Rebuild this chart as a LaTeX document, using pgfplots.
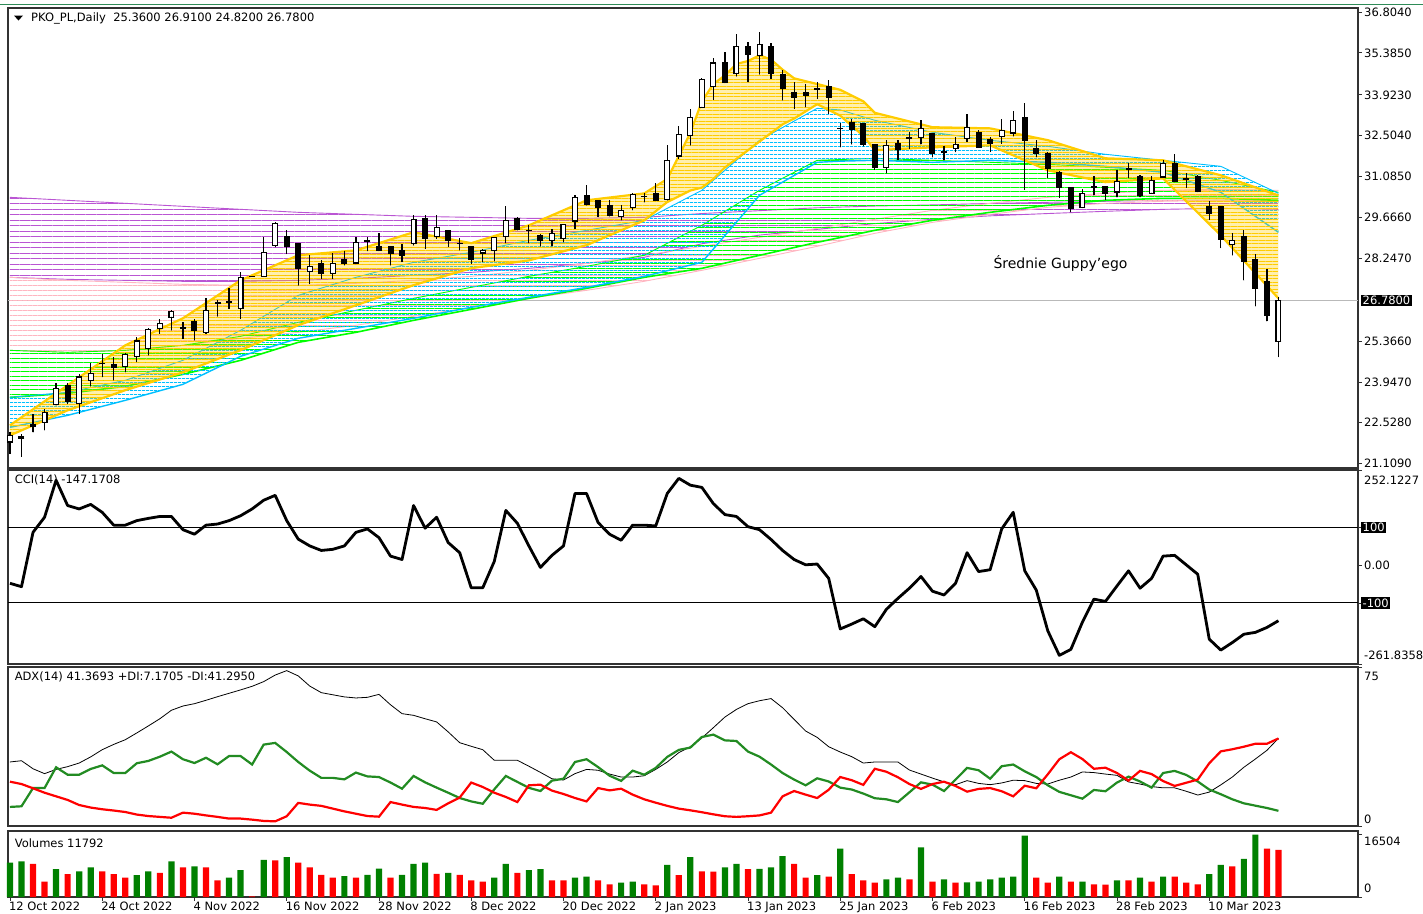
\documentclass[border=0pt]{standalone}
\usepackage{fontspec}
\setmainfont{DejaVu Sans}
\usepackage{pgfplots}
\pgfplotsset{compat=1.18}
\usepackage{pgfplotstable}
\usetikzlibrary{patterns.meta}
\definecolor{gvio}{RGB}{186,85,211}
\definecolor{gpink}{RGB}{255,182,193}
\definecolor{ggreen}{RGB}{0,255,0}
\definecolor{gblue}{RGB}{0,191,255}
\definecolor{ggold}{RGB}{255,204,0}
\definecolor{volg}{RGB}{0,128,0}
\definecolor{volr}{RGB}{255,0,0}
\definecolor{adxg}{RGB}{34,139,34}
\definecolor{framec}{RGB}{50,50,50}
\definecolor{topline}{RGB}{46,139,87}

\pgfplotstableread{
i o h l c
0 21.86 22.20 21.45 22.09
1 22.05 22.15 21.35 22.00
2 22.45 22.84 22.20 22.40
3 22.55 23.00 22.27 22.90
4 23.15 23.90 23.13 23.71
5 23.83 23.90 23.19 23.27
6 23.21 24.23 22.84 24.12
7 24.00 24.60 23.79 24.25
8 24.60 24.93 24.12 24.58
9 24.55 24.80 24.00 24.45
10 24.49 24.95 24.29 24.90
11 24.84 25.51 24.64 25.37
12 25.10 25.82 24.87 25.76
13 25.82 26.14 25.62 25.99
14 26.20 26.46 25.74 26.38
15 25.84 26.03 25.45 25.82
16 26.03 26.14 25.39 25.74
17 25.65 26.87 25.62 26.44
18 26.70 26.80 26.23 26.69
19 26.74 27.22 26.49 26.72
20 26.49 27.77 26.15 27.59
21 27.62 27.62 27.62 27.62
22 27.62 28.98 27.62 28.46
23 28.69 29.51 28.63 29.45
24 29.01 29.22 28.40 28.66
25 28.75 28.75 27.30 27.88
26 27.80 28.35 27.36 27.96
27 28.05 28.20 27.54 27.73
28 27.73 28.43 27.54 28.05
29 28.20 28.50 28.00 28.05
30 28.08 28.98 28.05 28.79
31 28.85 29.00 28.50 28.83
32 28.66 29.13 28.50 28.52
33 28.64 28.64 28.00 28.41
34 28.52 28.75 28.12 28.35
35 28.77 29.76 28.69 29.59
36 29.62 29.76 28.58 28.93
37 29.01 29.76 28.93 29.30
38 29.22 29.24 28.64 28.87
39 28.76 28.95 28.52 28.75
40 28.64 28.64 28.06 28.20
41 28.43 28.58 28.12 28.52
42 28.50 29.00 28.15 28.96
43 29.01 30.05 28.77 29.56
44 29.62 29.68 29.22 29.24
45 29.22 29.39 28.77 29.20
46 29.05 29.10 28.66 28.87
47 28.87 29.27 28.66 29.12
48 28.93 29.45 28.81 29.41
49 29.54 30.43 29.27 30.35
50 30.43 30.78 30.08 30.12
51 30.26 30.26 29.68 30.00
52 30.08 30.26 29.70 29.74
53 29.70 30.08 29.56 29.91
54 30.00 30.52 29.92 30.45
55 30.40 30.52 30.19 30.38
56 30.49 30.86 30.24 30.26
57 30.29 32.17 30.26 31.65
58 31.80 32.83 31.71 32.55
59 32.52 33.44 32.17 33.13
60 33.50 34.52 33.48 34.46
61 34.22 35.22 33.76 35.03
62 35.03 35.41 34.34 34.37
63 34.68 36.05 34.57 35.59
64 35.59 35.76 34.37 35.33
65 35.30 36.11 34.64 35.68
66 35.59 35.73 34.49 34.68
67 34.64 34.78 33.73 34.14
68 33.99 34.37 33.44 33.83
69 34.02 34.31 33.50 33.90
70 34.14 34.37 33.79 34.13
71 34.20 34.43 33.27 33.83
72 32.77 32.95 32.11 32.75
73 32.95 33.10 32.20 32.72
74 32.92 32.95 32.13 32.20
75 32.20 32.20 31.32 31.39
76 31.39 32.34 31.20 32.17
77 32.23 32.34 31.67 32.02
78 32.44 32.63 32.05 32.43
79 32.43 33.06 32.20 32.75
80 32.57 32.60 31.76 31.88
81 31.95 32.14 31.65 31.93
82 32.05 32.46 31.94 32.20
83 32.40 33.27 32.29 32.80
84 32.60 32.69 32.09 32.11
85 32.37 32.46 31.94 32.25
86 32.48 33.09 32.23 32.69
87 32.60 33.36 32.48 33.04
88 33.13 33.64 30.63 32.34
89 32.05 32.34 31.76 31.88
90 31.90 31.93 31.05 31.36
91 31.24 31.28 30.35 30.70
92 30.70 30.72 29.85 29.97
93 30.00 30.66 30.00 30.51
94 30.73 31.09 30.43 30.72
95 30.75 30.75 30.28 30.49
96 30.55 31.30 30.37 30.90
97 31.36 31.55 31.05 31.35
98 31.09 31.13 30.37 30.43
99 30.51 31.09 30.49 30.95
100 31.07 31.67 31.05 31.53
101 31.53 31.88 30.90 30.90
102 31.03 31.20 30.70 31.00
103 31.09 31.13 30.55 30.58
104 30.05 30.24 29.59 29.82
105 30.03 30.03 28.61 28.89
106 28.73 29.12 28.35 28.87
107 29.01 29.22 27.48 28.12
108 28.20 28.41 26.58 27.19
109 27.42 27.88 26.06 26.26
110 25.36 26.91 24.82 26.78
}\candles

\pgfplotstableread{
i o c
0 21.86 22.09
3 22.55 22.90
4 23.15 23.71
6 23.21 24.12
7 24.00 24.25
10 24.49 24.90
11 24.84 25.37
12 25.10 25.76
13 25.82 25.99
14 26.20 26.38
17 25.65 26.44
20 26.49 27.59
22 27.62 28.46
23 28.69 29.45
26 27.80 27.96
28 27.73 28.05
30 28.08 28.79
35 28.77 29.59
37 29.01 29.30
41 28.43 28.52
42 28.50 28.96
43 29.01 29.56
47 28.87 29.12
48 28.93 29.41
49 29.54 30.35
53 29.70 29.91
54 30.00 30.45
57 30.29 31.65
58 31.80 32.55
59 32.52 33.13
60 33.50 34.46
61 34.22 35.03
63 34.68 35.59
65 35.30 35.68
76 31.39 32.17
79 32.43 32.75
82 32.05 32.20
83 32.40 32.80
86 32.48 32.69
87 32.60 33.04
93 30.00 30.51
96 30.55 30.90
99 30.51 30.95
100 31.07 31.53
106 28.73 28.87
110 25.36 26.78
}\whites

% Guppy bands: upper edge left to right, then lower edge right to left
\pgfplotstableread{
x y
0 30.363
5 30.259
10 30.155
15 30.051
20 29.946
25 29.842
30 29.772
35 29.703
40 29.668
45 29.633
50 29.633
55 29.668
60 29.800
65 29.900
70 30.000
75 30.060
80 30.100
85 30.150
90 30.190
95 30.225
100 30.259
105 30.259
110 30.225
110 29.946
105 29.981
100 29.946
95 29.877
90 29.800
85 29.720
80 29.600
75 29.450
70 29.250
65 29.050
60 28.750
55 28.278
50 28.069
45 27.895
40 27.756
35 27.652
30 27.548
25 27.478
20 27.444
15 27.444
10 27.478
5 27.513
0 27.582
}\vio

\pgfplotstableread{
x y
0 27.582
5 27.478
10 27.409
15 27.339
20 27.305
25 27.305
30 27.374
35 27.478
40 27.617
45 27.826
50 28.069
55 28.348
60 28.660
65 28.973
70 29.286
75 29.599
80 29.912
85 30.155
90 30.363
95 30.502
100 30.607
105 30.641
110 30.607
110 30.225
105 30.259
100 30.225
95 30.155
90 30.016
85 29.772
80 29.494
75 29.112
70 28.660
65 28.243
60 27.826
55 27.444
50 27.131
45 26.853
40 26.540
35 26.227
30 25.915
25 25.671
20 25.463
15 25.219
10 25.045
5 24.976
0 25.045
}\pink

\pgfplotstableread{
x y
0 25.045
5 24.976
10 25.045
15 25.219
20 25.532
25 26.019
30 26.436
35 26.853
40 27.235
45 27.617
50 27.965
55 28.348
60 29.390
65 30.607
70 31.649
75 31.719
80 31.649
85 31.580
90 31.510
95 31.406
100 31.302
105 30.954
110 30.537
110 30.259
105 30.329
100 30.329
95 30.259
90 30.085
85 29.842
80 29.564
75 29.216
70 28.799
65 28.348
60 27.895
55 27.582
50 27.200
45 26.853
40 26.470
35 26.088
30 25.671
25 25.324
20 24.698
15 24.211
10 23.794
5 23.551
0 23.412
}\green

\pgfplotstableread{
x y
0 23.412
5 23.586
10 24.003
15 24.698
20 25.741
25 26.957
30 27.582
35 28.104
40 28.452
45 28.869
50 29.216
55 29.564
60 30.607
65 32.345
70 33.457
72 33.400
75 33.040
80 32.623
85 32.345
90 32.136
95 31.858
100 31.649
105 31.441
110 30.502
110 29.147
105 30.537
100 31.232
95 31.441
90 31.580
85 31.649
80 31.580
75 31.649
72 31.620
70 31.580
65 30.433
60 28.104
55 27.617
50 27.235
45 26.888
40 26.540
35 26.158
30 25.810
25 25.463
20 24.837
15 23.864
10 23.307
5 22.786
0 22.369
}\blue

\pgfplotstableread{
x y
0 22.44
5 23.83
10 25.22
15 26.16
20 27.48
25 28.35
30 28.52
35 29.15
40 28.77
45 29.39
50 30.26
55 30.50
57 31.00
58 31.80
59 32.60
60 33.70
61 34.30
62 34.60
63 35.00
64 35.10
65 35.30
66 35.15
67 34.80
68 34.50
70 34.30
72 34.10
74 33.70
75 33.30
80 32.80
85 32.76
90 32.35
95 31.72
100 31.65
105 31.13
110 30.43
110 26.85
105 29.04
100 31.02
95 30.89
90 31.30
85 32.17
80 32.10
75 32.00
74 32.50
72 33.20
70 33.60
68 33.10
67 32.90
66 32.60
65 32.30
64 32.00
63 31.70
62 31.40
61 31.00
60 30.70
59 30.60
58 30.40
57 30.20
55 29.56
50 28.70
45 28.17
40 27.90
35 27.31
30 26.61
25 25.92
20 25.05
15 24.28
10 23.66
5 22.96
0 22.09
}\gold

\pgfplotstableread{
i v
0 -48
1 -57
2 87
3 127
4 225
5 158
6 149
7 161
8 140
9 106
10 106
11 118
12 124
13 129
14 129
15 94
16 82
17 106
18 109
19 118
20 131
21 149
22 172
23 185
24 118
25 69
26 51
27 39
28 42
29 51
30 87
31 96
32 73
33 24
34 15
35 158
36 98
37 127
38 60
39 33
40 -60
41 -60
42 10
43 145
44 111
45 51
46 -6
47 26
48 51
49 190
50 190
51 113
52 82
53 66
54 106
55 106
56 104
57 190
58 230
59 212
60 206
61 163
62 134
63 129
64 102
65 94
66 68
67 39
68 15
69 1
70 3
71 -35
72 -169
73 -156
74 -142
75 -163
76 -117
77 -88
78 -61
79 -30
80 -69
81 -79
82 -48
83 33
84 -17
85 -12
86 96
87 140
88 -15
89 -66
90 -174
91 -239
92 -223
93 -151
94 -90
95 -96
96 -55
97 -15
98 -61
99 -35
100 24
101 26
102 1
103 -24
104 -196
105 -225
106 -205
107 -183
108 -178
109 -165
110 -147.17
}\cci

\pgfplotstableread{
i adx pdi mdi
0 30.2 9.0 20.9
1 30.8 9.3 19.8
2 27.0 17.9 17.8
3 24.7 17.9 15.7
4 26.7 27.7 14.0
5 28.0 24.2 12.3
6 29.7 24.2 9.9
7 32.6 26.9 8.7
8 36.0 28.6 7.9
9 38.5 25.0 7.3
10 40.7 25.0 6.6
11 43.9 29.6 5.4
12 47.2 30.7 4.7
13 50.6 32.7 4.3
14 54.6 35.1 3.9
15 56.6 31.5 6.3
16 57.7 29.7 5.8
17 59.3 32.2 5.0
18 61.0 29.1 4.3
19 62.6 33.0 3.5
20 64.2 33.0 3.5
21 65.9 29.0 3.0
22 68.1 38.4 2.4
23 71.2 39.2 2.2
24 73.3 34.9 4.6
25 70.8 30.2 10.9
26 66.0 26.1 10.1
27 62.9 22.7 9.5
28 61.9 22.7 8.2
29 60.9 22.0 6.9
30 60.4 25.2 5.8
31 60.7 23.4 4.7
32 62.1 23.1 4.4
33 57.2 20.5 11.3
34 53.0 17.6 10.1
35 52.2 23.6 9.0
36 50.6 20.6 8.5
37 49.1 18.1 7.6
38 44.4 15.7 10.7
39 39.3 13.2 13.4
40 37.6 11.6 20.5
41 36.0 10.5 18.4
42 31.0 17.3 15.7
43 31.0 23.6 13.7
44 31.0 20.8 11.3
45 28.2 18.0 19.2
46 25.3 16.5 19.5
47 22.3 21.4 16.7
48 21.7 22.3 15.1
49 24.7 30.2 13.2
50 26.7 31.5 11.6
51 26.3 27.8 17.9
52 24.5 23.7 16.8
53 23.1 21.3 17.6
54 23.1 26.1 14.8
55 23.7 24.2 12.6
56 26.7 27.4 11.0
57 30.2 32.6 9.5
58 34.6 35.9 8.2
59 37.4 37.0 7.4
60 41.5 42.0 6.5
61 46.4 43.1 5.5
62 51.4 40.4 4.6
63 55.0 40.1 4.3
64 57.7 35.1 4.6
65 59.1 32.7 5.0
66 60.1 29.0 6.3
67 55.8 25.0 14.0
68 50.3 21.9 16.5
69 44.8 19.2 14.8
70 41.8 22.5 13.2
71 37.4 21.0 17.1
72 34.9 18.1 23.1
73 32.7 17.2 21.6
74 29.7 15.3 19.4
75 30.2 13.1 27.0
76 30.2 12.6 25.6
77 30.2 11.3 23.0
78 26.4 15.9 19.8
79 24.5 20.6 17.5
80 22.6 19.5 19.8
81 20.8 16.5 20.9
82 19.5 21.9 18.9
83 21.4 27.4 16.2
84 20.1 26.3 17.5
85 19.5 22.3 17.9
86 20.3 28.2 16.4
87 21.6 29.0 14.0
88 21.4 25.8 19.0
89 20.1 23.1 17.8
90 19.8 19.2 24.4
91 21.6 16.1 31.5
92 23.1 14.5 34.8
93 25.5 12.9 31.6
94 25.2 17.0 27.0
95 24.5 16.4 27.5
96 23.9 20.5 25.0
97 20.8 23.3 21.4
98 19.8 21.0 26.0
99 18.6 18.1 24.5
100 18.0 25.0 21.2
101 18.0 26.0 18.9
102 16.4 24.1 20.4
103 14.6 21.0 21.9
104 16.0 17.2 29.6
105 19.4 15.0 35.2
106 23.1 12.6 36.2
107 27.7 10.7 37.4
108 31.6 9.6 38.8
109 35.7 8.5 38.8
110 41.37 7.17 41.30
}\adx

\pgfplotstableread{
i v
0 9110
1 9470
4 7400
6 6765
7 7850
11 5770
12 6765
14 9470
16 8120
19 5140
20 7125
22 9830
24 10550
29 5500
31 5860
32 7490
34 5860
35 8750
36 9110
38 6400
42 5140
43 8750
45 7125
46 7400
49 5140
50 5410
53 3790
54 4060
57 8480
59 10550
62 7850
63 8750
65 7450
66 7850
67 10820
70 5770
72 12810
76 4690
77 5140
79 13170
81 4690
83 3850
84 4060
85 4690
86 5140
87 5410
88 16240
91 5410
93 4100
96 4420
98 5140
100 5410
104 6040
105 8480
107 10100
108 16504
}\volgreen

\pgfplotstableread{
i v
2 8750
3 4060
5 6040
8 6765
9 6040
10 5140
13 6400
15 7850
17 7850
18 4420
21 180
23 9700
25 9110
26 7850
27 5860
28 5140
30 5140
33 5140
37 6130
39 5860
40 4420
41 4060
44 6400
47 4420
48 4380
51 4420
52 3340
55 3340
56 3070
58 5770
60 6765
61 6700
64 7400
68 8750
69 5140
71 5410
73 6040
74 4420
75 3790
78 4690
80 4060
82 3790
89 5140
90 3790
92 4060
94 3340
95 3300
97 4380
99 4060
101 5380
102 3790
103 3340
106 8120
109 12800
110 12500
}\volred

\pgfplotsset{
  panel/.style={
    scale only axis, width=1350pt, xmin=-0.17, xmax=116.9,
    anchor=north west, clip=false,
    scaled y ticks=false, scaled x ticks=false,
    axis line style={framec, line width=1.1pt},
    xtick=\empty, ytick pos=right, yticklabel pos=right,
    tick align=outside, major tick length=4pt,
    tick style={framec, line width=0.8pt},
    yticklabel style={font=\fontsize{11.5}{13}\selectfont, anchor=west, inner sep=1pt, xshift=1pt},
  },
}
\tikzset{
  rlab/.style={anchor=west, font=\fontsize{11.5}{13}\selectfont, inner sep=1pt, xshift=5pt},
  rbox/.style={anchor=west, font=\fontsize{11.5}{13}\selectfont, inner sep=1.5pt, xshift=3pt, fill=black, text=white},
  plab/.style={anchor=west, font=\fontsize{11.5}{13}\selectfont, inner sep=0pt},
}

\begin{document}
\begin{tikzpicture}
\useasboundingbox (0pt,0pt) rectangle (1423pt,-913pt);
\draw[topline, line width=1pt] (0pt,-4pt) -- (1423pt,-4pt);
\fill[black] (14pt,-15.5pt) -- (23pt,-15.5pt) -- (18.5pt,-20.5pt) -- cycle;
\node[plab] at (31pt,-18pt) {PKO\_PL,Daily\ \ 25.3600 26.9100 24.8200 26.7800};

% ---------------- main price panel
\begin{axis}[panel, at={(8pt,-8pt)}, height=460pt, ymin=20.956, ymax=36.943,
  ytick={21.109,22.528,23.947,25.366,28.247,29.666,31.085,32.504,33.923,35.385,36.804},
  yticklabels={21.1090,22.5280,23.9470,25.3660,28.2470,29.6660,31.0850,32.5040,33.9230,35.3850,36.8040}]
\addplot[gray!55, line width=0.8pt] coordinates {(-0.17,26.78) (116.9,26.78)};
% Guppy bands
\addplot[draw=none, pattern={Lines[distance=5.5pt,line width=0.9pt,yshift=0pt]}, pattern color=gvio] table[x=x,y=y]{\vio};
\addplot[gvio, line width=0.9pt, skip coords between index={23}{46}] table[x=x,y=y]{\vio};
\addplot[gvio, line width=0.9pt, skip coords between index={0}{23}] table[x=x,y=y]{\vio};
\addplot[draw=none, pattern={Lines[distance=5pt,line width=0.9pt,yshift=2.5pt]}, pattern color=gpink] table[x=x,y=y]{\pink};
\addplot[gpink, line width=0.9pt, skip coords between index={23}{46}] table[x=x,y=y]{\pink};
\addplot[gpink, line width=0.9pt, skip coords between index={0}{23}] table[x=x,y=y]{\pink};
\addplot[draw=none, pattern={Lines[distance=4.5pt,line width=0.9pt,yshift=1.2pt]}, pattern color=ggreen] table[x=x,y=y]{\green};
\addplot[ggreen, line width=0.9pt, skip coords between index={23}{46}] table[x=x,y=y]{\green};
\addplot[ggreen, line width=1.6pt, skip coords between index={0}{23}] table[x=x,y=y]{\green};
\addplot[draw=none, pattern={Lines[distance=4pt,line width=0.9pt,yshift=3.2pt]}, pattern color=gblue] table[x=x,y=y]{\blue};
\addplot[gblue, line width=0.9pt, skip coords between index={24}{48}] table[x=x,y=y]{\blue};
\addplot[gblue, line width=1.4pt, skip coords between index={0}{24}] table[x=x,y=y]{\blue};
\addplot[draw=none, fill=ggold, fill opacity=0.32] table[x=x,y=y]{\gold};
\addplot[draw=none, pattern={Lines[distance=3.5pt,line width=1.2pt,yshift=0.6pt]}, pattern color=ggold] table[x=x,y=y]{\gold};
\addplot[ggold, line width=2.2pt, skip coords between index={35}{70}] table[x=x,y=y]{\gold};
\addplot[ggold, line width=2.2pt, skip coords between index={0}{35}] table[x=x,y=y]{\gold};
% candles
\addplot[only marks, mark=*, mark size=0.01pt, mark options={draw=none, fill=none},
  error bars/.cd, y dir=plus, y explicit, error mark=none,
  error bar style={black, line width=1.2pt}]
  table[x=i, y=l, y error expr=\thisrow{h}-\thisrow{l}]{\candles};
\addplot[only marks, mark=*, mark size=0.01pt, mark options={draw=none, fill=none},
  error bars/.cd, y dir=plus, y explicit, error mark=none,
  error bar style={black, line width=6pt}]
  table[x=i, y expr={min(\thisrow{o},\thisrow{c})}, y error expr={abs(\thisrow{c}-\thisrow{o})}]{\candles};
\addplot[only marks, mark=*, mark size=0.01pt, mark options={draw=none, fill=none},
  error bars/.cd, y dir=plus, y explicit, error mark=none,
  error bar style={white, line width=3.8pt}]
  table[x=i, y=o, y error expr={\thisrow{c}-\thisrow{o}}]{\whites};
\addplot[only marks, mark=-, mark size=3pt, mark options={black, line width=1.1pt}] table[x=i,y=o]{\candles};
\addplot[only marks, mark=-, mark size=3pt, mark options={black, line width=1.1pt}] table[x=i,y=c]{\candles};
\node[font=\fontsize{14}{16}\selectfont] at (axis cs:91.1,28.07) {Średnie Guppy’ego};
\node[rbox] at (axis cs:116.9,26.78) {26.7800};
\end{axis}

% ---------------- CCI panel
\begin{axis}[panel, at={(8pt,-470pt)}, height=194pt, ymin=-261.8358, ymax=252.1227,
  ytick={-261.8358,-100,0,100,252.1227}, yticklabels={}]
\addplot[black, line width=1pt] coordinates {(-0.17,100) (116.9,100)};
\addplot[black, line width=1pt] coordinates {(-0.17,-100) (116.9,-100)};
\addplot[black, line width=2.8pt, line join=round] table[x=i,y=v]{\cci};
\node[plab] at (axis cs:0.4,226) {CCI(14) -147.1708};
\node[rlab] at (axis cs:116.9,226) {252.1227};
\node[rbox] at (axis cs:116.9,100) {100};
\node[rlab] at (axis cs:116.9,0) {0.00};
\node[rbox] at (axis cs:116.9,-100) {-100};
\node[rlab] at (axis cs:116.9,-240) {-261.8358};
\end{axis}

% ---------------- ADX panel
\begin{axis}[panel, at={(8pt,-667pt)}, height=159pt, ymin=0, ymax=75,
  ytick={0,75}, yticklabels={}]
\addplot[black, line width=0.8pt] table[x=i,y=adx]{\adx};
\addplot[adxg, line width=2.2pt] table[x=i,y=pdi]{\adx};
\addplot[volr, line width=2.2pt] table[x=i,y=mdi]{\adx};
\node[plab] at (axis cs:0.4,70.3) {ADX(14) 41.3693 +DI:7.1705 -DI:41.2950};
\node[rlab] at (axis cs:116.9,70.8) {75};
\node[rlab] at (axis cs:116.9,3.3) {0};
\end{axis}

% ---------------- Volume panel
\begin{axis}[panel, at={(8pt,-831pt)}, height=66pt, ymin=0, ymax=17480,
  ytick={0,16504}, yticklabels={},
  xtick={0,8,...,104}, xtick pos=bottom,
  xticklabels={12 Oct 2022,24 Oct 2022,4 Nov 2022,16 Nov 2022,28 Nov 2022,8 Dec 2022,20 Dec 2022,2 Jan 2023,13 Jan 2023,25 Jan 2023,6 Feb 2023,16 Feb 2023,28 Feb 2023,10 Mar 2023},
  xticklabel style={font=\fontsize{11.5}{13}\selectfont, anchor=north west, inner sep=1pt, xshift=-2pt}]
\addplot[ybar, bar width=6.2pt, bar shift=0pt, fill=volg, draw=none] table[x=i,y=v]{\volgreen};
\addplot[ybar, bar width=6.2pt, bar shift=0pt, fill=volr, draw=none] table[x=i,y=v]{\volred};
\node[plab] at (axis cs:0.4,14300) {Volumes 11792};
\node[rlab] at (axis cs:116.9,14750) {16504};
\node[rlab] at (axis cs:116.9,2250) {0};
\end{axis}
\end{tikzpicture}
\end{document}
